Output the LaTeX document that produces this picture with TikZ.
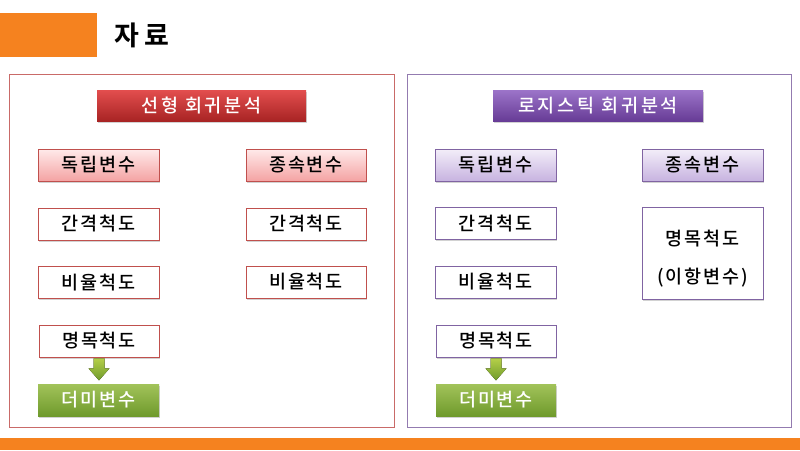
\documentclass[tikz,border=0pt]{standalone}
\usepackage{fontspec}
\setmainfont{Noto Sans CJK KR Medium}
\newfontfamily\krb{Noto Sans CJK KR Bold}
\usetikzlibrary{shadows,calc}
\definecolor{orng}{HTML}{F5821F}
\definecolor{redln}{HTML}{C0504D}
\definecolor{purln}{HTML}{8064A2}
\definecolor{grn1}{HTML}{A2C35A}
\definecolor{grn2}{HTML}{6F9A2C}
\definecolor{rh1}{HTML}{E34E4E}
\definecolor{rh2}{HTML}{A82424}
\definecolor{ph1}{HTML}{9C74C9}
\definecolor{ph2}{HTML}{673C96}
\definecolor{rl1}{HTML}{FFEAEA}
\definecolor{rl2}{HTML}{F4A3A3}
\definecolor{pl1}{HTML}{F3EEF9}
\definecolor{pl2}{HTML}{C7B3E0}
\tikzset{
  shd/.style={drop shadow={opacity=0.35,shadow xshift=1pt,shadow yshift=-1.5pt}},
  panel/.style={draw, line width=0.8pt, fill=white, inner sep=0pt},
  txt/.style={font=\fontsize{18.5}{20}\selectfont\addfontfeatures{LetterSpace=10}},
  box/.style={draw, line width=0.8pt, fill=white, shd, minimum width=121pt, minimum height=32pt, inner sep=0pt, txt},
  rbox/.style={box, draw=redln},
  pbox/.style={box, draw=purln},
  rlight/.style={rbox, top color=rl1, bottom color=rl2},
  plight/.style={pbox, top color=pl1, bottom color=pl2},
  hdr/.style={draw=none, shd, minimum width=209pt, minimum height=31pt, inner sep=0pt, text=white, font=\fontsize{18.5}{20}\selectfont\addfontfeatures{LetterSpace=15}},
  rhdr/.style={hdr, top color=rh1, bottom color=rh2},
  phdr/.style={hdr, top color=ph1, bottom color=ph2},
  ghdr/.style={box, draw=none, top color=grn1, bottom color=grn2, text=white},
  garrow/.style={top color=grn1!80!yellow, bottom color=grn2}
}
\begin{document}
\begin{tikzpicture}[x=1pt,y=-1pt]
\useasboundingbox (0,0) rectangle (800,450);
% top decoration
\fill[orng] (0,13) rectangle (97,57);
\node[anchor=west, font=\krb\fontsize{27}{28}\selectfont\addfontfeatures{LetterSpace=20}] (title) at (111,35) {자료};
\fill[orng] (0,438) rectangle (800,450);
% panels
\draw[panel, draw=redln!85!white, drop shadow={opacity=0.2,shadow xshift=1pt,shadow yshift=-1pt}] (9,74) rectangle (394,427);
\draw[panel, draw=purln!85!white, drop shadow={opacity=0.2,shadow xshift=1pt,shadow yshift=-1pt}] (407,74) rectangle (791,427);
% left panel
\node[rhdr] (lh) at (201.5,105.5) {선형 회귀분석};
\node[rlight] (lind) at (98.5,165) {독립변수};
\node[rlight, minimum width=120pt] (ldep) at (306,165) {종속변수};
\node[rbox] (lint) at (98.5,224) {간격척도};
\node[rbox, minimum width=120pt] (rint) at (306,224) {간격척도};
\node[rbox] (lrat) at (98.5,282.5) {비율척도};
\node[rbox, minimum width=120pt] (rrat) at (306,282) {비율척도};
\node[rbox, minimum width=120pt] (lnom) at (99,341) {명목척도};
\node[ghdr] (ldum) at (98.5,400) {더미변수};
\fill[garrow, shift={(lnom.south)}] (-5.5,1) -- (5.5,1) -- (5.5,11) -- (10.5,11) -- (0,23) -- (-10.5,11) -- (-5.5,11) -- cycle;
% right panel
\node[phdr, minimum width=210pt] (rh) at (598,105.5) {로지스틱 회귀분석};
\node[plight] (pind) at (495.5,165) {독립변수};
\node[plight] (pdep) at (702.5,165) {종속변수};
\node[pbox] (pint) at (495.5,223.5) {간격척도};
\node[pbox] (prat) at (495.5,282) {비율척도};
\node[pbox, align=center, minimum height=92pt, font=\fontsize{18.5}{38}\selectfont\addfontfeatures{LetterSpace=10}] (pbin) at (702.5,253) {\rule{0pt}{26pt}명목척도\\(이항변수)};
\node[pbox, minimum width=120pt] (pnom) at (496,341) {명목척도};
\node[ghdr, minimum width=120pt] (pdum) at (496,400) {더미변수};
\fill[garrow, shift={(pnom.south)}] (-5.5,1) -- (5.5,1) -- (5.5,11) -- (10.5,11) -- (0,23) -- (-10.5,11) -- (-5.5,11) -- cycle;
\end{tikzpicture}
\end{document}
